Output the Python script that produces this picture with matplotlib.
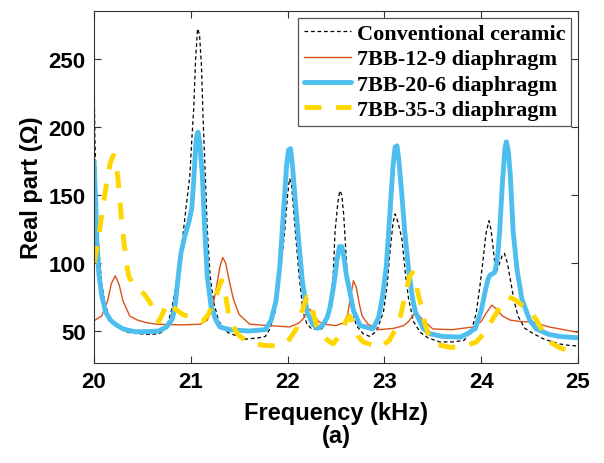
import matplotlib
matplotlib.use("Agg")
import matplotlib.pyplot as plt

# Conventional ceramic
f_cer = [20.00, 20.01, 20.03, 20.05, 20.08, 20.11, 20.16, 20.24, 20.35, 20.46,
         20.58, 20.67, 20.72, 20.76, 20.80, 20.84, 20.88, 20.91, 20.95, 20.99,
         21.01, 21.03, 21.05, 21.07, 21.09, 21.11, 21.13, 21.15, 21.17, 21.20,
         21.24, 21.29, 21.38, 21.56, 21.70, 21.77, 21.82, 21.87, 21.92, 21.97,
         22.00, 22.02, 22.04, 22.08, 22.12, 22.16, 22.20, 22.25, 22.35, 22.40,
         22.44, 22.47, 22.49, 22.52, 22.54, 22.56, 22.58, 22.61, 22.65, 22.71,
         22.78, 22.85, 22.92, 22.99, 23.03, 23.06, 23.09, 23.11, 23.14, 23.18,
         23.22, 23.25, 23.30, 23.37, 23.45, 23.57, 23.70, 23.82, 23.90, 23.95,
         23.99, 24.02, 24.05, 24.08, 24.10, 24.12, 24.14, 24.16, 24.19, 24.22,
         24.24, 24.27, 24.30, 24.34, 24.38, 24.45, 24.54, 24.65, 24.81, 24.90, 25.00]
r_cer = [238, 190, 140, 110, 85, 71, 60, 53, 49, 48,
         47.5, 48, 50, 55, 65, 80, 100, 115, 140, 164,
         190, 213, 250, 272, 268, 245, 200, 164, 125, 90,
         70, 57, 49, 44, 45, 46, 52, 64, 90, 123,
         150, 162, 158, 123, 90, 64, 55, 51.5, 51.5, 56,
         68, 90, 123, 145, 153, 150, 135, 98, 70, 54,
         48, 46, 50, 64, 85, 110, 130, 136, 130, 118,
         90, 73.5, 57, 49, 45, 42, 42, 43, 50, 64,
         85, 103, 122, 131, 125, 113, 100, 94, 100, 106,
         107, 100, 88, 72, 61, 52, 48, 44, 40.5, 39.5, 39]

# 7BB-12-9 diaphragm
f_12 = [20.00, 20.08, 20.14, 20.18, 20.22, 20.26, 20.30, 20.37, 20.45, 20.55,
        20.65, 20.90, 21.10, 21.17, 21.22, 21.26, 21.30, 21.33, 21.36, 21.40,
        21.44, 21.50, 21.61, 21.80, 22.02, 22.12, 22.16, 22.20, 22.23, 22.27,
        22.32, 22.37, 22.50, 22.58, 22.62, 22.65, 22.68, 22.71, 22.74, 22.77,
        22.83, 22.95, 23.10, 23.20, 23.25, 23.30, 23.34, 23.40, 23.50, 23.70,
        23.92, 24.00, 24.05, 24.11, 24.16, 24.22, 24.30, 24.40, 24.54, 24.70,
        24.85, 25.00]
r_12 = [57.5, 61, 72, 85, 90.5, 84, 72, 61, 58, 56,
        55, 54.5, 55, 58, 66, 80, 97, 104, 100, 86,
        73.5, 62, 55, 54, 53, 56, 59, 64, 66, 62,
        57, 55, 54, 56, 62, 75, 87, 82, 70, 61,
        55, 51, 52, 54, 57, 62, 62.5, 58, 51.5, 51,
        53, 57, 63, 69, 66, 61, 58, 57, 56.5, 53,
        51, 49]

# 7BB-20-6 diaphragm
f_20 = [20.00, 20.02, 20.03, 20.05, 20.08, 20.12, 20.17, 20.22, 20.30, 20.42,
        20.55, 20.67, 20.75, 20.81, 20.84, 20.87, 20.90, 20.94, 20.98, 21.01,
        21.03, 21.05, 21.06, 21.075, 21.09, 21.12, 21.14, 21.17, 21.21, 21.26,
        21.30, 21.40, 21.60, 21.77, 21.83, 21.88, 21.92, 21.96, 21.99, 22.01,
        22.03, 22.05, 22.08, 22.11, 22.15, 22.20, 22.26, 22.31, 22.36, 22.41,
        22.44, 22.48, 22.51, 22.535, 22.56, 22.58, 22.61, 22.64, 22.68, 22.75,
        22.88, 22.94, 22.98, 23.02, 23.06, 23.09, 23.11, 23.13, 23.15, 23.18,
        23.21, 23.25, 23.29, 23.32, 23.40, 23.47, 23.60, 23.78, 23.86, 23.94,
        24.00, 24.04, 24.07, 24.09, 24.14, 24.17, 24.19, 24.22, 24.245, 24.26,
        24.28, 24.30, 24.33, 24.37, 24.42, 24.50, 24.57, 24.70, 24.81, 25.00]
r_20 = [175, 140, 115, 92, 76, 64, 58, 55, 51.5, 49.5,
        49.5, 50, 53, 59, 70, 90, 108, 120, 130, 140,
        160, 185, 193, 196, 190, 164, 130, 90, 68, 58,
        53, 51, 50, 51, 58, 72, 98, 140, 172, 183,
        184, 172, 145, 120, 88, 64, 55, 52, 54, 60,
        68, 85, 102, 112, 112, 105, 90, 80, 65, 54,
        51.5, 60, 75, 98, 140, 172, 185, 186, 175, 150,
        123, 95, 74, 64, 52, 48, 46, 45.5, 48, 52,
        65, 79, 88, 91, 93, 105, 123, 160, 184, 189,
        182, 165, 123, 95, 73.5, 58, 51.5, 47.5, 46, 45]

# 7BB-35-3 diaphragm
f_35 = [20.00, 20.04, 20.08, 20.11, 20.14, 20.17, 20.20, 20.22, 20.25, 20.28,
        20.31, 20.34, 20.36, 20.40, 20.45, 20.52, 20.58, 20.63, 20.67, 20.71,
        20.75, 20.78, 20.81, 20.84, 20.92, 21.01, 21.12, 21.18, 21.25, 21.30,
        21.32, 21.35, 21.40, 21.48, 21.58, 21.75, 21.89, 22.00, 22.09, 22.15,
        22.20, 22.23, 22.27, 22.30, 22.38, 22.47, 22.55, 22.60, 22.64, 22.68,
        22.73, 22.78, 22.95, 23.05, 23.12, 23.16, 23.22, 23.26, 23.29, 23.32,
        23.37, 23.42, 23.47, 23.55, 23.68, 23.82, 23.95, 24.05, 24.12, 24.20,
        24.28, 24.35, 24.42, 24.50, 24.58, 24.65, 24.71, 24.80, 24.92, 25.00]
r_35 = [100, 115, 135, 149, 163, 174, 179, 178, 160, 135,
        115, 98, 90, 85, 82, 77, 71, 63, 57, 63,
        70, 71, 69, 66, 62, 60, 57, 62, 73.5, 84,
        87, 80, 59, 48, 42, 39.5, 39, 42, 51.5, 65,
        75, 73, 62, 54, 45, 40.5, 48, 57, 61, 55,
        46, 42, 38, 43, 52, 59, 78, 90, 93, 86,
        71, 55, 44, 40, 38, 38.5, 42, 50, 59, 68,
        75, 73, 69, 66, 57, 48, 42, 38, 35, 33]

fig = plt.figure(figsize=(6.04, 4.64), dpi=100)
ax = fig.add_axes([0.1556, 0.2155, 0.8014, 0.7585])

ax.plot(f_cer, r_cer, color='black', lw=0.9, dashes=(3, 2.2),
        label='Conventional ceramic')
ax.plot(f_12, r_12, color='#D95319', lw=1.0, solid_joinstyle='round',
        label='7BB-12-9 diaphragm')
ax.plot(f_20, r_20, color='#4DBEEE', lw=3.5, solid_joinstyle='round',
        solid_capstyle='round', label='7BB-20-6 diaphragm')
ax.plot(f_35, r_35, color='#FFD700', lw=3.5, dashes=(3.5, 3),
        dash_joinstyle='round', label='7BB-35-3 diaphragm')

ax.set_xlim(20, 25)
ax.set_ylim(26.5, 285)
ax.set_xticks([20, 21, 22, 23, 24, 25])
ax.set_yticks([50, 100, 150, 200, 250])

tick_font = {'family': 'Liberation Sans', 'weight': 'bold', 'size': 16}
for lab in ax.get_xticklabels() + ax.get_yticklabels():
    lab.set_fontproperties(matplotlib.font_manager.FontProperties(**tick_font))
ax.tick_params(direction='in', top=True, right=True, length=5, width=0.8,
               color='#333333', pad=6)
for s in ax.spines.values():
    s.set_color('#333333')
    s.set_linewidth(0.8)

ax.set_xlabel('Frequency (kHz)\n(a)', family='Liberation Sans', weight='bold',
              fontsize=17, labelpad=6, linespacing=1.0)
ax.set_ylabel('Real part (Ω)', family='Liberation Sans', weight='bold',
              fontsize=17, labelpad=4)

leg = ax.legend(loc='upper right', prop={'family': 'Liberation Serif',
                                         'weight': 'bold', 'size': 16},
                fancybox=False, edgecolor='#555555', framealpha=1,
                borderaxespad=0.3, borderpad=0.25, labelspacing=0.22,
                handlelength=2.1, handletextpad=0.3)
leg.get_frame().set_linewidth(0.9)

fig.savefig('out.png', dpi=100)
